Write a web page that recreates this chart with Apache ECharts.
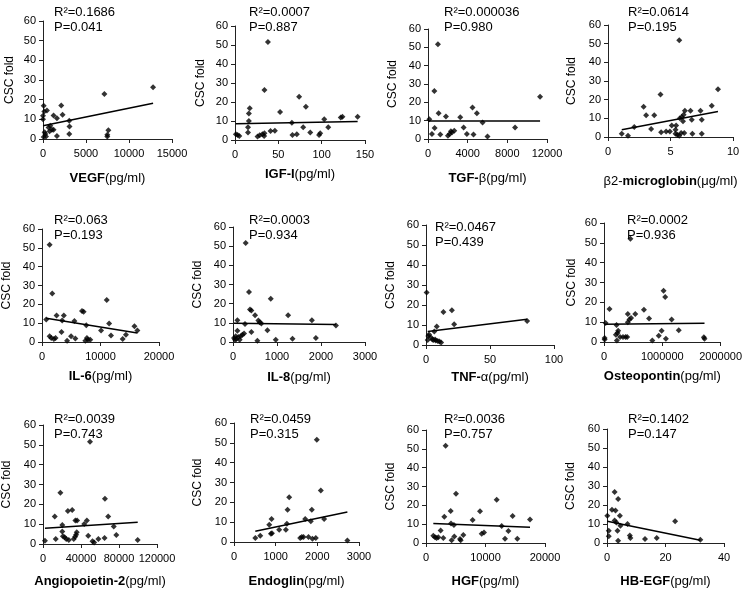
<!DOCTYPE html>
<html>
<head>
<meta charset="utf-8">
<script src="https://cdn.jsdelivr.net/npm/echarts@6/dist/echarts.min.js"></script>
<style>
  html, body { margin: 0; padding: 0; background: #fff; }
  #main { width: 745px; height: 589px; }
</style>
</head>
<body>
<div id="main"></div>
<script>
// CSC fold vs. serum factor, one list of [x, y] per panel
var vegfPts = [[80,16.9],[0,11.8],[0,10.1],[150,14],[460,14.5],[1230,12],[1620,10.6],[2120,17],[2275,12.3],[3050,9.3],[3085,6.4],[3050,2.5],[850,6.7],[650,5.9],[1040,4.7],[1230,4.7],[770,3.9],[1620,1.5],[190,3.4],[270,2.5],[350,1.3],[80,1],[7135,22.9],[12800,26.3],[7600,4.4],[7480,2.2],[7480,1.3]];
var igfPts = [[1,3.0],[3,2.6],[5,2.1],[15,3.9],[15,6.7],[16,10],[16,14],[17,16.7],[26,1.8],[28.5,2.5],[31.6,3.0],[33.6,2.1],[34,3.5],[34,26.3],[38,51.6],[41,4.7],[46,4.9],[52,14.7],[65.6,9.1],[66.3,2.6],[71.3,3.0],[74,22.8],[78.7,6.7],[81.8,17.5],[86.8,4.0],[97,2.6],[98.3,3.5],[103,10.9],[107.6,6.7],[122,11.9],[124,12.3],[141.5,12.3]];
var tgfPts = [[130,10.8],[400,2.7],[640,26.2],[670,6.0],[1000,51.7],[1070,14.1],[1240,2.4],[1810,12.3],[2010,1.8],[2180,2.7],[2310,4.2],[2410,3.6],[2650,4.5],[3250,11.8],[3590,6.3],[3920,2.7],[4490,17.2],[4590,2.4],[4930,14.1],[5500,9.0],[6000,1.4],[8780,6.3],[11300,23.1]];
var b2mPts = [[1.1,1.8],[1.6,0.7],[2.1,5.3],[2.85,16.2],[3.05,11.6],[3.45,4.3],[3.7,11.6],[4.2,22.8],[4.25,2.5],[4.65,3.0],[4.95,3.0],[5.1,6.1],[5.4,3.9],[5.45,6.1],[5.7,51.8],[5.4,1.8],[5.55,1.2],[5.7,0.7],[5.85,2.1],[5.75,10.1],[5.9,10.7],[6.0,8.4],[6.05,11.9],[6.15,14.1],[6.1,2.1],[6.6,14.1],[6.7,9.3],[6.75,1.8],[7.4,14.1],[7.5,9.3],[7.5,1.8],[8.3,16.7],[8.8,25.6]];
var il6Pts = [[730,11.9],[1300,51.7],[1300,3.0],[1580,2.1],[1750,25.8],[2030,1.6],[2490,14.1],[2320,2.1],[3330,5.3],[3450,11.4],[3730,14.1],[4290,0.6],[4970,3.0],[5540,11.2],[5700,1.8],[6840,16.4],[7120,16.0],[7400,0.6],[7570,8.9],[7680,2.1],[7850,1.2],[8250,1.2],[10100,6.1],[11070,22.3],[11470,9.8],[11800,3.4],[13790,1.6],[14350,3.9],[15800,8.4],[16300,6.1]];
var il8Pts = [[23,2.1],[46,1.2],[61,3.0],[76,1.6],[99,11.4],[99,5.9],[121,2.6],[152,1.2],[175,3.0],[213,3.8],[251,4.4],[289,51.6],[273,9.4],[364,26.1],[387,17],[418,16.4],[418,5.2],[501,14],[554,0.7],[577,11.2],[608,10.3],[645,9.6],[782,6.1],[858,22.6],[972,1.2],[1253,14],[1352,1.7],[1792,11.4],[1883,2.1],[2339,8.6]];
var tnfPts = [[0.5,26.2],[1.3,2.5],[1.8,4.5],[2.4,5.3],[3.9,3.7],[5,2.8],[5.8,2.5],[6.5,6.7],[7.1,2.8],[7.6,2.3],[8.4,9.2],[9.2,2.0],[10.5,1.7],[11.8,1.2],[13.6,16.5],[20.2,17.4],[22,10.4],[79,12]];
var optPts = [[11000,2.0],[11000,1.2],[28000,9.6],[94000,16.6],[204000,3.7],[215000,8.6],[232000,4.5],[243000,5.7],[221000,0.8],[276000,2.5],[326000,2.5],[370000,2.5],[398000,2.5],[409000,14.1],[409000,9.9],[436000,11.3],[464000,12.1],[453000,52.1],[536000,14.1],[685000,16.3],[773000,11.8],[829000,0.8],[939000,3.2],[989000,5.7],[1022000,25.9],[1050000,22.7],[1061000,1.7],[1160000,11.3],[1282000,5.9],[1713000,2.4],[1724000,1.7]];
var angPts = [[2070,1.7],[12400,13.9],[13400,2.5],[18300,25.9],[20300,9.6],[20300,6.3],[21000,3.9],[22800,3.4],[24500,2.5],[26200,16.6],[27200,2.0],[30700,17.2],[32400,2.5],[33800,3.7],[34100,11.8],[35900,11.8],[35500,5.9],[34800,4.7],[43400,10.1],[46200,11.8],[47600,4.2],[52100,1.4],[53800,0.8],[49500,51.5],[58300,2.5],[65200,22.8],[64800,3.0],[68600,13.9],[74500,8.8],[77200,4.6],[99700,2.0]];
var endPts = [[511,2.0],[630,3.2],[846,8.7],[886,4.2],[910,4.4],[902,11.6],[1085,6.2],[1245,6.2],[1269,9.2],[1285,16.3],[1325,22.6],[1588,2.0],[1628,2.5],[1668,2.5],[1708,11.6],[1788,2.5],[1843,10.4],[1868,16.3],[1883,1.7],[1963,2.0],[1987,51.5],[2083,26.0],[2163,11.6],[2721,0.8]];
var hgfPts = [[1230,3.8],[1510,3.0],[1790,2.6],[2070,3.0],[2460,6.6],[2910,2.6],[3080,13.9],[3300,51.7],[4150,17.0],[4200,10.4],[4310,1.4],[4700,9.6],[4760,3.5],[5040,26.1],[5710,2.1],[5830,1.4],[6270,4.3],[7840,12.2],[9080,16.9],[9360,4.9],[9750,5.6],[11880,23.0],[12720,9.0],[13280,2.3],[13840,6.4],[14560,14.3],[15350,2.3],[17480,12.5]];
var hbPts = [[0.1,14.3],[0.6,6.5],[0.6,3.5],[1.7,17.5],[2.6,11.9],[2.6,26.8],[2.9,17.1],[3.2,10.8],[3.6,6.5],[3.8,1.2],[3.8,23.1],[4.4,14.3],[4.6,9.1],[7.0,10.0],[7.8,4.0],[8.0,2.6],[13.0,2.1],[17.0,2.6],[23.3,11.5],[31.9,1.7]];

// linear trend line end points
var trends = [
  [[0,6.7],[12800,18.2]],
  [[1,8.6],[141.5,9.8]],
  [[0,9.8],[11300,9.8]],
  [[1.1,3.9],[8.8,13.7]],
  [[730,12.6],[16300,4.8]],
  [[23,9.8],[2339,9.1]],
  [[1.3,6.7],[79,12.9]],
  [[11000,8.9],[1724000,9.4]],
  [[2070,7.9],[99700,11.0]],
  [[511,5.4],[2721,15.1]],
  [[1230,10.4],[17480,8.4]],
  [[0.1,11.4],[31.9,1.4]]
];

var r2Labels = ['0.1686','0.0007','0.000036','0.0614','0.063','0.0003','0.0467','0.0002','0.0039','0.0459','0.0036','0.1402'];
var pLabels = ['0.041','0.887','0.980','0.195','0.193','0.934','0.439','0.936','0.743','0.315','0.757','0.147'];

// x axis: [max, interval]
var xMax = [15000,150,12000,10,20000,3000,100,2000000,120000,3000,20000,40];
var xStep = [5000,50,4000,5,10000,1000,50,1000000,40000,1000,10000,20];

// axis names: [normal before, bold, normal after]
var xNames = [
  ['', 'VEGF', '(pg/ml)'],
  ['', 'IGF-I', '(pg/ml)'],
  ['', 'TGF-', 'β(pg/ml)'],
  ['β2-', 'microglobin', '(μg/ml)'],
  ['', 'IL-6', '(pg/ml)'],
  ['', 'IL-8', '(pg/ml)'],
  ['', 'TNF-', 'α(pg/ml)'],
  ['', 'Osteopontin', '(pg/ml)'],
  ['', 'Angiopoietin-2', '(pg/ml)'],
  ['', 'Endoglin', '(pg/ml)'],
  ['', 'HGF', '(pg/ml)'],
  ['', 'HB-EGF', '(pg/ml)']
];

var allPts = [vegfPts, igfPts, tgfPts, b2mPts, il6Pts, il8Pts, tnfPts, optPts, angPts, endPts, hgfPts, hbPts];

// layout of each panel: left, top, width, height
var boxes = [
  [43,21,129,118],[235,26,130,114],[428,29,119,110],[608,25,125,112],
  [41,229,118,113],[233,227,132,115],[426,225,128,120],[604,223,121,119],
  [41,425,116,119],[234,423,125,120],[426,430,119,115],[607,429,117,115]
];
var xGap = [33,28,33,38,28,29,26,28,31,33,32,32];
var yGap = [27,28,29,30,29,29,29,26,30,30,29,30];
// where the R2 / P text sits: x, y of R2 line
var notes = [
  [54,12],[249,12],[444,12],[628,12],
  [54,220],[249,220],[435,227],[627,220],
  [54,419],[250,419],[444,419],[628,419]
];

var FONT = 'Arial, "Liberation Sans", sans-serif';

var grids = [], xAxes = [], yAxes = [], series = [], texts = [];
for (var i = 0; i < 12; i++) {
    var b = boxes[i];
    grids.push({left: b[0], top: b[1], width: b[2], height: b[3], containLabel: false});
    var nm = xNames[i];
    var nameStr = (nm[0] ? '{n|' + nm[0] + '}' : '') + '{b|' + nm[1] + '}' + '{n|' + nm[2] + '}';
    xAxes.push({
        gridIndex: i, type: 'value', min: 0, max: xMax[i], interval: xStep[i],
        name: nameStr, nameLocation: 'middle', nameGap: xGap[i],
        nameTextStyle: {
            rich: {
                b: {fontFamily: FONT, fontSize: 13, fontWeight: 'bold', color: '#000'},
                n: {fontFamily: FONT, fontSize: 13, color: '#000'}
            }
        },
        axisLine: {show: true, onZero: false, lineStyle: {color: '#222', width: 1}},
        axisTick: {show: true, length: 4, lineStyle: {color: '#222'}},
        axisLabel: {color: '#000', fontFamily: FONT, fontSize: 11, margin: 9,
            formatter: function (v) { return String(v); }},
        splitLine: {show: false}
    });
    yAxes.push({
        gridIndex: i, type: 'value', min: 0, max: 60, interval: 10,
        name: 'CSC fold', nameLocation: 'middle', nameGap: yGap[i],
        nameTextStyle: {fontFamily: FONT, fontSize: 12, color: '#000'},
        axisLine: {show: true, onZero: false, lineStyle: {color: '#222', width: 1}},
        axisTick: {show: true, length: 4, lineStyle: {color: '#222'}},
        axisLabel: {color: '#000', fontFamily: FONT, fontSize: 11, margin: 7},
        splitLine: {show: false}
    });
    series.push({
        type: 'scatter', xAxisIndex: i, yAxisIndex: i,
        data: allPts[i], symbol: 'diamond', symbolSize: 6,
        itemStyle: {color: '#000'}
    });
    series.push({
        type: 'line', xAxisIndex: i, yAxisIndex: i,
        data: trends[i], symbol: 'none',
        lineStyle: {color: '#000', width: 1.5}
    });
    texts.push({
        type: 'text', x: notes[i][0], y: notes[i][1],
        style: {text: 'R²=' + r2Labels[i], font: '13px ' + FONT, fill: '#000', verticalAlign: 'middle'}
    });
    texts.push({
        type: 'text', x: notes[i][0], y: notes[i][1] + 15,
        style: {text: 'P=' + pLabels[i], font: '13px ' + FONT, fill: '#000', verticalAlign: 'middle'}
    });
}

var chart = echarts.init(document.getElementById('main'), null, {renderer: 'canvas'});
chart.setOption({
    animation: false,
    backgroundColor: '#fff',
    grid: grids,
    xAxis: xAxes,
    yAxis: yAxes,
    series: series,
    graphic: texts
});
</script>
</body>
</html>
